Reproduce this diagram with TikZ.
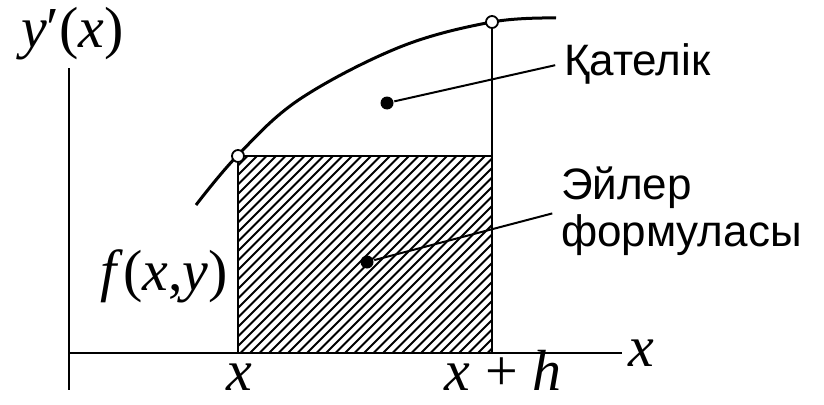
\documentclass[tikz,border=0pt]{standalone}
\usepackage{fontspec}
\setmainfont{Liberation Serif}
\setsansfont{Liberation Sans}
\usetikzlibrary{positioning, calc}
\tikzset{
  every picture/.style={line width=2pt},
  axis/.style={line width=2pt},
  curve/.style={line width=3pt},
  hatch/.style={line width=1.8pt},
  opendot/.style={circle, draw, fill=white, line width=1.8pt, inner sep=0pt, minimum size=12pt},
  fulldot/.style={circle, fill, inner sep=0pt, minimum size=13pt},
  mathlbl/.style={font=\fontsize{58}{62}\selectfont, inner sep=0pt},
  textlbl/.style={font=\sffamily\fontsize{44}{47}\selectfont, align=left, inner sep=0pt},
  leader/.style={line width=2pt, shorten >=8pt},
}

\begin{document}
\begin{tikzpicture}[x=1pt, y=-1pt]
  \useasboundingbox (0,0) rectangle (824,404);
  % axes
  \coordinate (ytop) at (69,68);
  \coordinate (ybot) at (69,390);
  \coordinate (O) at (69,353);
  \coordinate (xend) at (622,353);
  \draw[axis] (ytop) -- (ybot);
  \draw[axis] (O) -- (xend);
  % strip under the curve
  \coordinate (A) at (238,353);
  \coordinate (B) at (492,353);
  \coordinate (C) at (492,156);
  \coordinate (D) at (238,156);
  \coordinate (E) at (492,22);
  \begin{scope}
    \clip (A) rectangle (C);
    \foreach \s in {0,9.5,...,460} \draw[hatch] (41+\s,353) -- ++(197,-197);
  \end{scope}
  \draw[axis] (A) rectangle (C);
  \draw[curve] plot[smooth, tension=0.6] coordinates {(196,205) (238,155) (300,99) (400,47) (492,22) (556,18)};
  \node[opendot] (p0) at (D) {};
  \node[opendot] (p1) at (E) {};
  \draw[axis] (B) -- (p1);
  % labels
  \node[mathlbl, anchor=base west] (ylbl) at (20,48) {{\itshape y}′({\itshape x})};
  \node[mathlbl, anchor=base west] (xlbl) at (627,366) {\itshape x};
  \node[mathlbl, anchor=base east] (flbl) at (229,290) {{\itshape f}\/({\itshape x},{\itshape y})};
  \node[mathlbl, anchor=base] (xa) at (239,390) {\itshape x};
  \node[mathlbl, anchor=base] (xh) at (503,390) {{\itshape x} + {\itshape h}};
  % error and Euler parts
  \node[fulldot] (err) at (387,103) {};
  \node[fulldot] (eul) at (367,262) {};
  \node[textlbl, anchor=base west] (errlbl) at (563,75) {Қателік};
  \node[textlbl, anchor=north west] (eullbl) at (560,166) {Эйлер\\формуласы};
  \draw[leader] (err) -- (errlbl.west);
  \draw[leader] (eul) -- (eullbl.west);
\end{tikzpicture}
\end{document}
